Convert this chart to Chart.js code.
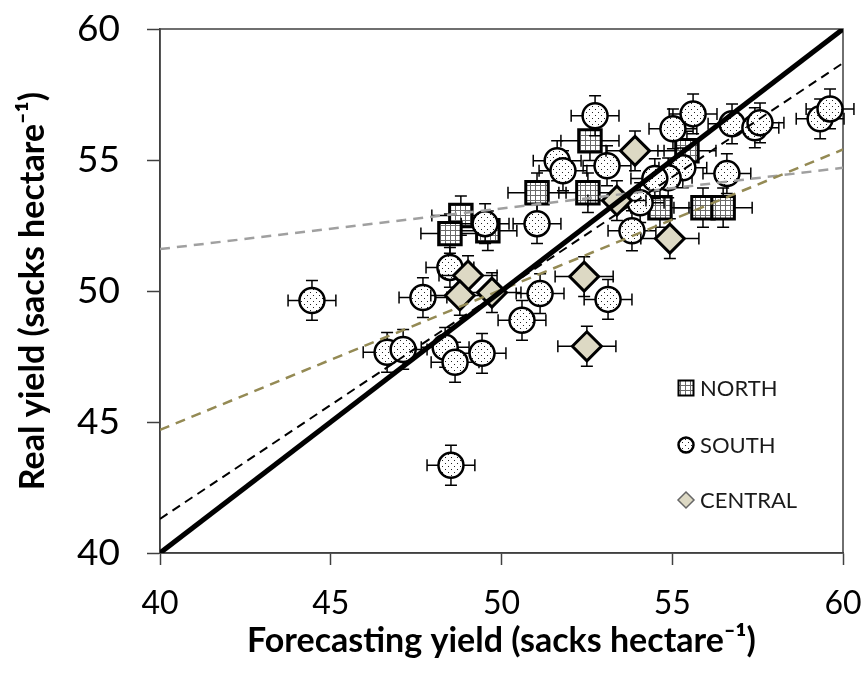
<!DOCTYPE html>
<html>
<head>
<meta charset="utf-8">
<script src="https://cdn.jsdelivr.net/npm/chart.js@4.4.1/dist/chart.umd.min.js"></script>
<style>
html,body{margin:0;padding:0;background:#fff;}
#wrap{width:866px;height:675px;position:relative;}
</style>
</head>
<body>
<div id="wrap"><canvas id="c" width="866" height="675"></canvas></div>
<script>
// ---- data ----
const xTicks = [40, 45, 50, 55, 60];
const yTicks = [40, 45, 50, 55, 60];

const northX = [52.59, 51.04, 52.53, 48.81, 48.49, 49.60, 55.43, 54.64, 55.90, 56.49];
const northY = [55.73, 53.75, 53.75, 52.88, 52.19, 52.30, 55.35, 53.18, 53.18, 53.18];

const southX = [52.74, 51.63, 51.80, 53.09, 55.02, 55.61, 56.75, 57.42, 57.57, 59.33, 59.62,
                55.31, 54.88, 54.49, 56.60, 54.06, 53.82, 49.52, 51.04, 48.49, 47.70, 44.45,
                51.13, 50.60, 53.12, 46.65, 47.12, 48.35, 48.64, 49.43, 48.52];
const southY = [56.69, 54.97, 54.59, 54.78, 56.19, 56.76, 56.38, 56.23, 56.42, 56.57, 56.95,
                54.70, 54.32, 54.29, 54.48, 53.37, 52.30, 52.57, 52.57, 50.90, 49.75, 49.64,
                49.90, 48.88, 49.68, 47.66, 47.77, 47.85, 47.28, 47.62, 43.35];

const centralX = [53.91, 53.38, 54.93, 52.42, 49.02, 48.78, 49.72, 52.50];
const centralY = [55.35, 53.45, 52.00, 50.55, 50.59, 49.83, 49.94, 47.89];

// error bar half-widths (sacks hectare-1)
const northErrX = 0.85, northErrY = 0.75;
const southErrX = 0.70, southErrY = 0.76;
const centralErrX = 0.85, centralErrY = 0.76;

// lines: x endpoints and y at those endpoints
const lineX = [40, 60];
const oneToOneY = [40, 60];
const southTrendY = [41.3, 58.7];
const centralTrendY = [44.7, 55.4];
const northTrendY = [51.6, 54.7];

const series = ['NORTH', 'SOUTH', 'CENTRAL'];

// ---- helpers ----
const pts = (xs, ys) => xs.map((x, i) => ({x: x, y: ys[i]}));

function makeGridPattern() {
  const cv = document.createElement('canvas');
  cv.width = 5; cv.height = 5;
  const g = cv.getContext('2d');
  g.fillStyle = '#ffffff'; g.fillRect(0, 0, 5, 5);
  g.fillStyle = '#6a6a6a';
  g.fillRect(0, 0, 5, 1);
  g.fillRect(0, 0, 1, 5);
  return document.getElementById('c').getContext('2d').createPattern(cv, 'repeat');
}
function makeDotPattern() {
  const cv = document.createElement('canvas');
  cv.width = 6; cv.height = 6;
  const g = cv.getContext('2d');
  g.fillStyle = '#ffffff'; g.fillRect(0, 0, 6, 6);
  g.fillStyle = '#222222';
  g.fillRect(1, 1, 1, 1);
  g.fillRect(4, 4, 1, 1);
  return document.getElementById('c').getContext('2d').createPattern(cv, 'repeat');
}
const gridPat = makeGridPattern();
const dotPat = makeDotPattern();

// ---- plugins ----
const framePlugin = {
  id: 'frame',
  beforeDatasetsDraw(chart) {
    const a = chart.chartArea, c = chart.ctx;
    c.save();
    c.strokeStyle = '#404040';
    c.lineWidth = 1.5;
    c.strokeRect(a.left, a.top, a.right - a.left, a.bottom - a.top);
    c.restore();
  }
};

const errorBarPlugin = {
  id: 'errbars',
  beforeDatasetDraw(chart, args) {
    const ds = chart.data.datasets[args.index];
    if (ds.errX === undefined) return;
    const xs = chart.scales.x, ys = chart.scales.y, c = chart.ctx;
    const cap = 6;
    c.save();
    c.strokeStyle = '#000';
    c.lineWidth = 1.5;
    ds.data.forEach(p => {
      const px = xs.getPixelForValue(p.x), py = ys.getPixelForValue(p.y);
      const x0 = xs.getPixelForValue(p.x - ds.errX), x1 = xs.getPixelForValue(p.x + ds.errX);
      const y0 = ys.getPixelForValue(p.y - ds.errY), y1 = ys.getPixelForValue(p.y + ds.errY);
      c.beginPath();
      c.moveTo(x0, py); c.lineTo(x1, py);
      c.moveTo(x0, py - cap); c.lineTo(x0, py + cap);
      c.moveTo(x1, py - cap); c.lineTo(x1, py + cap);
      c.moveTo(px, y0); c.lineTo(px, y1);
      c.moveTo(px - cap, y0); c.lineTo(px + cap, y0);
      c.moveTo(px - cap, y1); c.lineTo(px + cap, y1);
      c.stroke();
    });
    c.restore();
  }
};

const legendPlugin = {
  id: 'insideLegend',
  afterDraw(chart) {
    const c = chart.ctx;
    const mx = 686, tx = 700;
    const rows = [388, 445, 500];
    c.save();
    c.font = '22px Lato';
    c.textBaseline = 'middle';
    c.textAlign = 'left';
    series.forEach((name, i) => {
      const y = rows[i];
      c.beginPath();
      if (name === 'NORTH') {
        c.rect(mx - 7.5, y - 7.5, 15, 15);
        c.fillStyle = gridPat; c.fill();
        c.lineWidth = 2; c.strokeStyle = '#000'; c.stroke();
      } else if (name === 'SOUTH') {
        c.arc(mx, y, 7.5, 0, Math.PI * 2);
        c.fillStyle = dotPat; c.fill();
        c.lineWidth = 2.5; c.strokeStyle = '#000'; c.stroke();
      } else {
        c.moveTo(mx, y - 8); c.lineTo(mx + 8, y); c.lineTo(mx, y + 8); c.lineTo(mx - 8, y); c.closePath();
        c.fillStyle = '#DDD9C4'; c.fill();
        c.lineWidth = 1.5; c.strokeStyle = '#666'; c.stroke();
      }
      c.fillStyle = '#1a1a1a';
      c.fillText(name, tx, y + 1);
    });
    c.restore();
  }
};

const zeroPad = s => { s.paddingTop = 0; s.paddingBottom = 0; s.paddingLeft = 0; s.paddingRight = 0; };

Chart.defaults.font.family = 'Lato';
Chart.defaults.color = '#000';

const chart = new Chart(document.getElementById('c'), {
  type: 'scatter',
  data: {
    datasets: [
      {label: '1:1', data: pts(lineX, oneToOneY), showLine: true, borderColor: '#000', borderWidth: 5,
       pointRadius: 0, fill: false, borderCapStyle: 'butt'},
      {label: 'SOUTH trend', data: pts(lineX, southTrendY), showLine: true, borderColor: '#000', borderWidth: 2,
       borderDash: [9, 6], pointRadius: 0, fill: false},
      {label: 'CENTRAL trend', data: pts(lineX, centralTrendY), showLine: true, borderColor: '#948A54', borderWidth: 2.5,
       borderDash: [10, 7], pointRadius: 0, fill: false},
      {label: 'NORTH trend', data: pts(lineX, northTrendY), showLine: true, borderColor: '#A0A0A0', borderWidth: 2.5,
       borderDash: [10, 7], pointRadius: 0, fill: false},
      {label: 'CENTRAL', data: pts(centralX, centralY), pointStyle: 'rectRot', pointRadius: 14.5,
       backgroundColor: '#DDD9C4', borderColor: '#000', borderWidth: 3, clip: false,
       errX: centralErrX, errY: centralErrY},
      {label: 'SOUTH', data: pts(southX, southY), pointStyle: 'circle', pointRadius: 12.5,
       backgroundColor: dotPat, borderColor: '#000', borderWidth: 2.5, clip: false,
       errX: southErrX, errY: southErrY},
      {label: 'NORTH', data: pts(northX, northY), pointStyle: 'rect', pointRadius: 15.9,
       backgroundColor: gridPat, borderColor: '#000', borderWidth: 3, clip: false,
       errX: northErrX, errY: northErrY}
    ]
  },
  options: {
    responsive: false,
    animation: false,
    devicePixelRatio: 1,
    events: [],
    layout: {padding: {top: 29, right: 23, left: 0, bottom: 0}},
    plugins: {legend: {display: false}, tooltip: {enabled: false}, title: {display: false}},
    scales: {
      x: {
        type: 'linear', min: 40, max: 60,
        afterBuildTicks: s => { s.ticks = xTicks.map(v => ({value: v})); },
        afterFit: s => { s.height = 122; zeroPad(s); },
        ticks: {font: {size: 32}, color: '#000', padding: 19},
        grid: {drawOnChartArea: false, drawTicks: true, tickLength: 12, tickColor: '#404040', tickWidth: 1.5},
        border: {display: true, color: '#404040', width: 1.5},
        title: {display: true, text: 'Forecasting yield (sacks hectare⁻¹)', color: '#000',
                font: {size: 34, weight: 'bold'}, padding: {top: 0, bottom: 14}}
      },
      y: {
        type: 'linear', min: 40, max: 60,
        afterBuildTicks: s => { s.ticks = yTicks.map(v => ({value: v})); },
        afterFit: s => { s.width = 160; zeroPad(s); },
        ticks: {font: {size: 37}, color: '#000', padding: 27},
        grid: {drawOnChartArea: false, drawTicks: true, tickLength: 13, tickColor: '#404040', tickWidth: 1.5},
        border: {display: true, color: '#404040', width: 1.5},
        title: {display: true, text: 'Real yield (sacks hectare⁻¹)', color: '#000',
                font: {size: 34, weight: 'bold'}, padding: {top: 13, bottom: 0}}
      }
    }
  },
  plugins: [framePlugin, errorBarPlugin, legendPlugin]
});
</script>
</body>
</html>
